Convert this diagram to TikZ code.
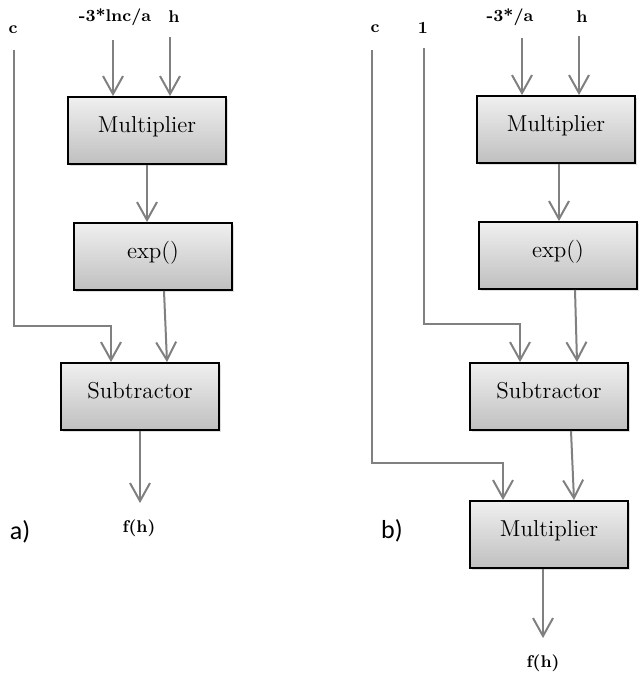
\documentclass[tikz,border=0pt]{standalone}
\usepackage{fontspec}
\newfontfamily\partfont{Carlito}
\usetikzlibrary{shapes, arrows.meta, shadows}
\tikzstyle{block} = [rectangle, minimum width=79pt, minimum height=33.5pt, text height=8pt, text depth=6pt, inner sep=0pt, draw=black, line width=0.9pt, top color=gray!12, bottom color=gray!50, drop shadow={shadow xshift=1.2pt, shadow yshift=-1.2pt, opacity=0.25}, font=\fontsize{11.5}{13}\selectfont]
\tikzstyle{io} = [inner sep=1pt, font=\bfseries\fontsize{8.5}{10}\selectfont]
\tikzstyle{part} = [inner sep=0pt, font=\partfont\fontsize{13}{15}\selectfont]
\tikzstyle{edge} = [gray, line width=1pt, -{Straight Barb[length=9pt, width=10pt]}]

\begin{document}
\begin{tikzpicture}[x=0.5pt, y=-0.5pt, node distance=63pt]
\useasboundingbox (0,0) rectangle (638,674);

% a)
\node (a1) [block] at (147,130.5) {Multiplier};
\node (a2) [block, below of=a1, xshift=3pt] {exp()};
\node (a3) [block, below of=a2, yshift=-7pt, xshift=-6.5pt] {Subtractor};

\node (la) [io] at (115,17) {-3*lnc/a};
\node (lh) [io] at (174,17) {h};
\node (lc) [io] at (13,30) {c};
\node (lf) [io] at (139,528) {f(h)};
\node (pa) [part] at (20,532) {a)};

\coordinate (ia) at (113,40);
\coordinate (ih) at (170,37);
\coordinate (ic) at (14,50);
\coordinate (ca) at (111,326);

\draw [edge] (ia) -- (ia |- a1.north);
\draw [edge] (ih) -- (ih |- a1.north);
\draw [edge] (a1.south) -- (a1.south |- a2.north);
\draw [edge] ([xshift=5.5pt]a2.south) -- ([xshift=13.5pt]a3.north);
\draw [edge] (ic) |- (ca) -- (ca |- a3.north);
\draw [edge, shorten >=7pt] (a3.south) -- (a3.south |- lf.north);

% b)
\node (b1) [block] at (556,129.5) {Multiplier};
\node (b2) [block, below of=b1, xshift=1pt] {exp()};
\node (b3) [block, below of=b2, yshift=-7.5pt, xshift=-4.5pt] {Subtractor};
\node (b4) [block, below of=b3, yshift=-6pt] {Multiplier};

\node (ra) [io] at (510,17) {-3*/a};
\node (rh) [io] at (582,17) {h};
\node (rc) [io] at (375,29) {c};
\node (r1) [io] at (423,28) {1};
\node (rf) [io] at (543,663) {f(h)};
\node (pb) [part] at (392,531) {b)};

\coordinate (ja) at (522,38);
\coordinate (jh) at (579,36);
\coordinate (jc) at (372,50);
\coordinate (j1) at (424,48);
\coordinate (cc) at (503,463);
\coordinate (c1) at (520,324);

\draw [edge] (ja) -- (ja |- b1.north);
\draw [edge] (jh) -- (jh |- b1.north);
\draw [edge] ([xshift=1.5pt]b1.south) -- ([xshift=1.5pt]b1.south |- b2.north);
\draw [edge] ([xshift=8.5pt]b2.south) -- ([xshift=14pt]b3.north);
\draw [edge] (j1) |- (c1) -- (c1 |- b3.north);
\draw [edge] ([xshift=11pt]b3.south) -- ([xshift=12.5pt]b4.north);
\draw [edge] (jc) |- (cc) -- (cc |- b4.north);
\draw [edge, shorten >=7pt] ([xshift=-3pt]b4.south) -- ([xshift=-3pt]b4.south |- rf.north);

\end{tikzpicture}
\end{document}
